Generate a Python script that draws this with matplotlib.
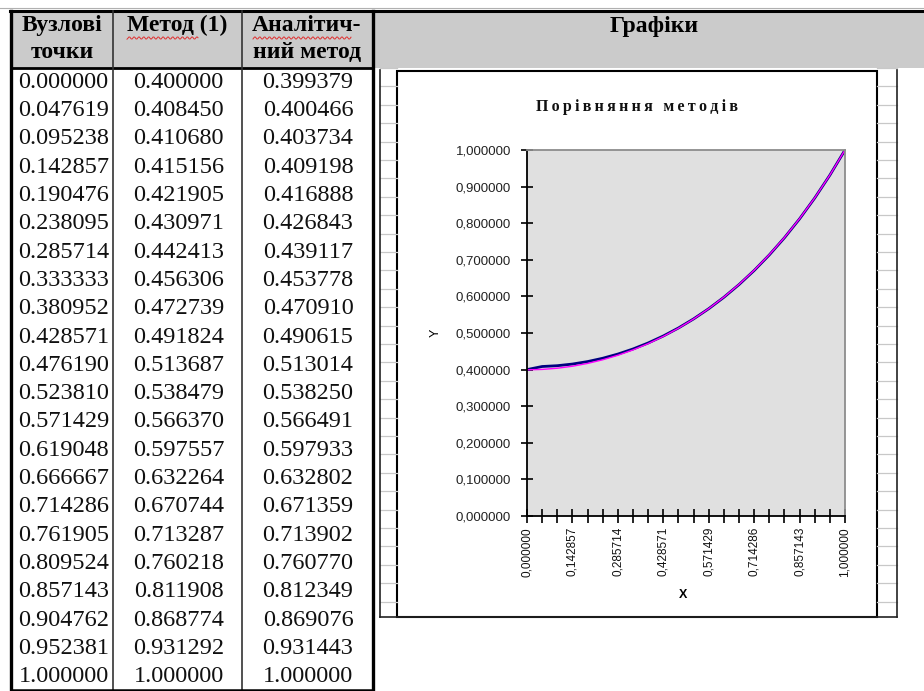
import numpy as np
import matplotlib
matplotlib.use("Agg")
import matplotlib.pyplot as plt
from matplotlib.patches import Rectangle

# table / chart data
nodes = [0.000000, 0.047619, 0.095238, 0.142857, 0.190476, 0.238095, 0.285714,
         0.333333, 0.380952, 0.428571, 0.476190, 0.523810, 0.571429, 0.619048,
         0.666667, 0.714286, 0.761905, 0.809524, 0.857143, 0.904762, 0.952381,
         1.000000]
method1 = [0.400000, 0.408450, 0.410680, 0.415156, 0.421905, 0.430971, 0.442413,
           0.456306, 0.472739, 0.491824, 0.513687, 0.538479, 0.566370, 0.597557,
           0.632264, 0.670744, 0.713287, 0.760218, 0.811908, 0.868774, 0.931292,
           1.000000]
analytic = [0.399379, 0.400466, 0.403734, 0.409198, 0.416888, 0.426843, 0.439117,
            0.453778, 0.470910, 0.490615, 0.513014, 0.538250, 0.566491, 0.597933,
            0.632802, 0.671359, 0.713902, 0.760770, 0.812349, 0.869076, 0.931443,
            1.000000]
headers = [("Вузлові", "точки"), ("Метод (1)", ""), ("Аналітич-", "ний метод")]
chart_header = "Графіки"
chart_title = "Порівняння методів"
y_ticks = [0.0, 0.1, 0.2, 0.3, 0.4, 0.5, 0.6, 0.7, 0.8, 0.9, 1.0]

W, H = 924, 691
serif = ["Liberation Serif", "DejaVu Serif"]
sans = ["Liberation Sans", "DejaVu Sans"]

fig = plt.figure(figsize=(W / 100, H / 100), dpi=100)
sheet = fig.add_axes([0, 0, 1, 1])
sheet.set_xlim(0, W)
sheet.set_ylim(H, 0)
sheet.axis("off")

col_x = [12, 113, 242, 372]
top, head_bot, bot = 11, 68, 690
row_h = (H - head_bot) / len(nodes)

# header backgrounds
sheet.add_patch(Rectangle((12, top), W - 12, head_bot - top, color="#cbcbcb", lw=0))
sheet.plot([0, W], [8, 8], color="#b0b0b0", lw=0.8)

for i, (l1, l2) in enumerate(headers):
    cx = (col_x[i] + col_x[i + 1]) / 2
    sheet.text(cx, 25, l1, ha="center", va="center", fontsize=17, fontweight="bold", family=serif)
    if l2:
        sheet.text(cx, 52, l2, ha="center", va="center", fontsize=17, fontweight="bold", family=serif)
sheet.text(654, 26, chart_header, ha="center", va="center", fontsize=17, fontweight="bold", family=serif)

# spell-check squiggles
for x0, x1 in [(127, 199), (253, 352)]:
    xs = np.arange(x0, x1, 1.0)
    sheet.plot(xs, 38 + 1.2 * np.sin(xs * 1.3), color="#e03030", lw=0.7)

# table body values
cols = [nodes, method1, analytic]
for j, vals in enumerate(cols):
    cx = (col_x[j] + col_x[j + 1]) / 2 + 1
    for i, v in enumerate(vals):
        sheet.text(cx, head_bot + row_h * (i + 0.5), f"{v:.6f}", ha="center", va="center",
                   fontsize=17.5, family=serif, color="#101010")

# table borders
sheet.plot([10, W], [top, top], color="black", lw=2.2)
sheet.plot([12, 372], [head_bot, head_bot], color="black", lw=2.0)
sheet.plot([11, 11], [top, bot], color="black", lw=2.4)
sheet.plot([113, 113], [top, bot], color="#333333", lw=1.2)
sheet.plot([242, 242], [top, bot], color="#333333", lw=1.2)
sheet.plot([373, 373], [top, bot], color="black", lw=2.4)
sheet.plot([11, 373], [bot, bot], color="black", lw=1.8)

# sheet grid peeking around the chart
for yy in np.arange(head_bot, 617, 18.4):
    sheet.plot([380, 397], [yy, yy], color="#c8c8c8", lw=0.9)
    sheet.plot([877, 897], [yy, yy], color="#c8c8c8", lw=0.9)
sheet.plot([380, 380], [head_bot + 2, 617], color="#222222", lw=1.2)
sheet.plot([897, 897], [head_bot + 2, 617], color="#222222", lw=1.2)
sheet.plot([380, 897], [617, 617], color="#222222", lw=1.2)

# chart box
sheet.add_patch(Rectangle((397, 71), 480, 546, facecolor="white", edgecolor="black", lw=1.5))
sheet.text(637, 107, "\u2009".join(chart_title), ha="center", va="center",
           fontsize=11.5, fontweight="bold", family=serif, color="#111111")

# plot area
pl, pr, pt, pb = 527, 845, 150, 516
ax = fig.add_axes([pl / W, (H - pb) / H, (pr - pl) / W, (pb - pt) / H])
ax.set_facecolor("#e0e0e0")
ax.plot(nodes, method1, color="#000080", lw=2.0)
ax.plot(nodes, analytic, color="#ff00ff", lw=1.0)
ax.set_xlim(0, 1)
ax.set_ylim(0, 1)

ax.set_yticks(y_ticks)
ax.set_yticklabels([f"{v:.6f}".replace(".", ",") for v in y_ticks], family=sans,
                   fontsize=9.5, color="#222222")
ax.set_xticks(nodes)
ax.set_xticklabels([f"{v:.6f}".replace(".", ",") if i % 3 == 0 else "" for i, v in enumerate(nodes)],
                   rotation=90, family=sans, fontsize=8.5, color="#111111")
ax.tick_params(axis="y", direction="inout", length=9, width=1.2, pad=7)
ax.tick_params(axis="x", direction="inout", length=10, width=1.2, pad=3)

for s in ("left", "bottom"):
    ax.spines[s].set_color("black")
    ax.spines[s].set_linewidth(1.3)
for s in ("top", "right"):
    ax.spines[s].set_color("#8c8c8c")
    ax.spines[s].set_linewidth(1.3)

ax.set_xlabel("X", family=sans, fontsize=9, fontweight="bold")
ax.set_ylabel("Y", family=sans, fontsize=9)
ax.xaxis.set_label_coords(0.49, -0.2)
ax.yaxis.set_label_coords(-0.268, 0.5)

fig.savefig("out.png", dpi=100)
